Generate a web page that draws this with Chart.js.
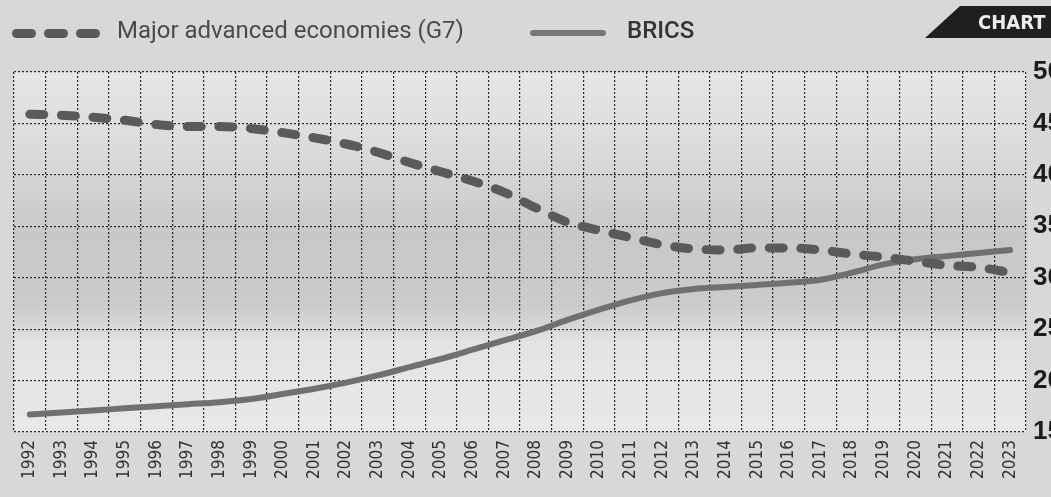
<!DOCTYPE html>
<html>
<head>
<meta charset="utf-8">
<script src="https://cdn.jsdelivr.net/npm/chart.js@4.4.0/dist/chart.umd.min.js"></script>
<style>
  html, body { margin: 0; padding: 0; }
  body {
    width: 1051px; height: 497px; overflow: hidden; position: relative;
    background: #d8d8d8;
    font-family: Roboto, "Open Sans", sans-serif;
  }
  #shareChart { position: absolute; left: 0; top: 0; }
  .pill { position: absolute; top: 29px; width: 24px; height: 9px; border-radius: 5px; background: #5a5a5a; z-index: 2; }
  .legend-text { position: absolute; top: 14px; line-height: 32px; font-size: 24px; z-index: 2; white-space: nowrap; }
  #bricsSwatch { position: absolute; left: 530px; top: 30px; width: 76px; height: 6px; background: #777; border-radius: 3px; z-index: 2; }
  #badge {
    position: absolute; left: 925px; top: 6px; width: 126px; height: 32px; z-index: 2;
    background: #1f1f1f;
    clip-path: polygon(35px 0, 100% 0, 100% 100%, 0 100%);
  }
  #badgeText {
    position: absolute; left: 978px; top: 6px; line-height: 32px; z-index: 3;
    color: #ececec; font-weight: 700; font-size: 20px; font-family: "DejaVu Sans Condensed", Roboto, sans-serif;
  }
</style>
</head>
<body>
<canvas id="shareChart" width="1051" height="497"></canvas>

<span class="pill" style="left:12px"></span>
<span class="pill" style="left:44px"></span>
<span class="pill" style="left:76px"></span>
<span class="legend-text" style="left:117px; color:#4a4a4a;">Major advanced economies (G7)</span>
<span id="bricsSwatch"></span>
<span class="legend-text" style="left:627px; color:#333; font-weight:500;">BRICS</span>
<div id="badge"></div>
<span id="badgeText">CHART</span>

<script>
// Years on the x axis
const years = ['1992', '1993', '1994', '1995', '1996', '1997', '1998', '1999',
    '2000', '2001', '2002', '2003', '2004', '2005', '2006', '2007',
    '2008', '2009', '2010', '2011', '2012', '2013', '2014', '2015',
    '2016', '2017', '2018', '2019', '2020', '2021', '2022', '2023'];

// Share of world GDP (%)
const g7Share = [45.9, 45.8, 45.6, 45.3, 44.9, 44.7, 44.7, 44.5,
    44.1, 43.6, 43.0, 42.2, 41.2, 40.3, 39.4, 38.3,
    36.8, 35.4, 34.6, 33.9, 33.2, 32.8, 32.7, 32.9,
    32.9, 32.7, 32.3, 32.0, 31.6, 31.2, 31.0, 30.5];

const bricsShare = [16.7, 16.9, 17.1, 17.3, 17.5, 17.7, 17.9, 18.2,
    18.7, 19.2, 19.8, 20.5, 21.3, 22.1, 23.0, 23.9,
    24.8, 25.9, 26.9, 27.8, 28.5, 28.9, 29.1, 29.3,
    29.5, 29.8, 30.5, 31.3, 31.8, 32.1, 32.4, 32.7];

// Y axis range and step
const yMin = 15;
const yMax = 50;
const yStep = 5;

// Paper tone behind the plot area (scanned newsprint look)
const paperTone = {
    id: 'paperTone',
    beforeDraw(chart) {
        const { ctx, chartArea: a } = chart;
        const g = ctx.createLinearGradient(0, a.top, 0, a.bottom);
        g.addColorStop(0, '#e6e6e6');
        g.addColorStop(0.2, '#dcdcdc');
        g.addColorStop(0.45, '#c8c8c8');
        g.addColorStop(0.65, '#cbcbcb');
        g.addColorStop(0.76, '#e4e4e4');
        g.addColorStop(1, '#e8e8e8');
        ctx.save();
        ctx.fillStyle = g;
        ctx.fillRect(a.left, a.top, a.right - a.left, a.bottom - a.top);
        ctx.restore();
    }
};

const gridColor = '#262626';

new Chart(document.getElementById('shareChart'), {
    type: 'line',
    data: {
        labels: years,
        datasets: [{
            label: 'Major advanced economies (G7)',
            data: g7Share,
            borderColor: '#5a5a5a',
            borderWidth: 9,
            borderDash: [14, 17.6],
            borderCapStyle: 'round',
            pointRadius: 0,
            fill: false,
            cubicInterpolationMode: 'monotone'
        }, {
            label: 'BRICS',
            data: bricsShare,
            borderColor: '#707070',
            borderWidth: 6,
            borderCapStyle: 'round',
            pointRadius: 0,
            fill: false,
            cubicInterpolationMode: 'monotone'
        }]
    },
    options: {
        responsive: false,
        animation: false,
        layout: { padding: { left: 14, top: 72, right: 0, bottom: 0 } },
        plugins: {
            legend: { display: false },
            tooltip: { enabled: false }
        },
        scales: {
            x: {
                offset: true,
                grid: { offset: true, color: gridColor, lineWidth: 1.2, drawTicks: false },
                border: { display: false, dash: [2, 2] },
                ticks: {
                    autoSkip: false,
                    minRotation: 90,
                    maxRotation: 90,
                    padding: 8,
                    color: '#333',
                    font: { family: '"DejaVu Sans Condensed", "DejaVu Sans", sans-serif', size: 17 }
                },
                afterFit: (scale) => { scale.height = 65; }
            },
            y: {
                position: 'right',
                min: yMin,
                max: yMax,
                grid: { color: gridColor, lineWidth: 1.2, drawTicks: false },
                border: { display: false, dash: [2, 2] },
                ticks: {
                    stepSize: yStep,
                    padding: 7,
                    color: '#1c1c1c',
                    font: { family: '"Liberation Sans", Arial, sans-serif', size: 26, weight: 'bold' }
                },
                afterFit: (scale) => { scale.width = 25; }
            }
        }
    },
    plugins: [paperTone]
});
</script>
</body>
</html>
